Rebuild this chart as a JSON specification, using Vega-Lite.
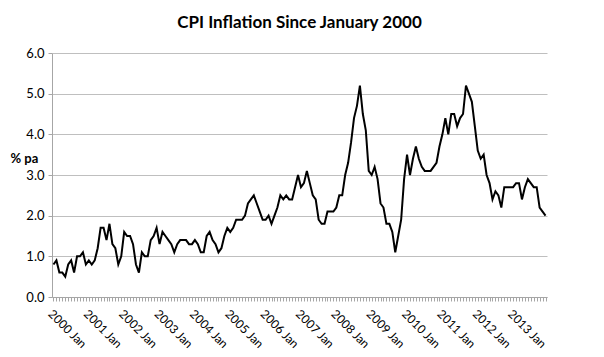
{
  "$schema": "https://vega.github.io/schema/vega-lite/v6.json",
  "width": 495,
  "height": 244,
  "autosize": "none",
  "padding": {"left": 52, "top": 53, "right": 57, "bottom": 60},
  "background": "white",
  "title": {"text": "CPI Inflation Since January 2000", "font": "Lato", "fontSize": 17, "fontWeight": "bold", "color": "#000000", "anchor": "middle", "offset": 15},
  "data": {"values": [
    {"m":"2000 Jan","v":0.8},{"m":"2000 Feb","v":0.9},{"m":"2000 Mar","v":0.6},{"m":"2000 Apr","v":0.6},{"m":"2000 May","v":0.5},{"m":"2000 Jun","v":0.8},{"m":"2000 Jul","v":0.9},{"m":"2000 Aug","v":0.6},{"m":"2000 Sep","v":1.0},{"m":"2000 Oct","v":1.0},{"m":"2000 Nov","v":1.1},{"m":"2000 Dec","v":0.8},
    {"m":"2001 Jan","v":0.9},{"m":"2001 Feb","v":0.8},{"m":"2001 Mar","v":0.9},{"m":"2001 Apr","v":1.2},{"m":"2001 May","v":1.7},{"m":"2001 Jun","v":1.7},{"m":"2001 Jul","v":1.4},{"m":"2001 Aug","v":1.8},{"m":"2001 Sep","v":1.3},{"m":"2001 Oct","v":1.2},{"m":"2001 Nov","v":0.8},{"m":"2001 Dec","v":1.0},
    {"m":"2002 Jan","v":1.6},{"m":"2002 Feb","v":1.5},{"m":"2002 Mar","v":1.5},{"m":"2002 Apr","v":1.3},{"m":"2002 May","v":0.8},{"m":"2002 Jun","v":0.6},{"m":"2002 Jul","v":1.1},{"m":"2002 Aug","v":1.0},{"m":"2002 Sep","v":1.0},{"m":"2002 Oct","v":1.4},{"m":"2002 Nov","v":1.5},{"m":"2002 Dec","v":1.7},
    {"m":"2003 Jan","v":1.3},{"m":"2003 Feb","v":1.6},{"m":"2003 Mar","v":1.5},{"m":"2003 Apr","v":1.4},{"m":"2003 May","v":1.3},{"m":"2003 Jun","v":1.1},{"m":"2003 Jul","v":1.3},{"m":"2003 Aug","v":1.4},{"m":"2003 Sep","v":1.4},{"m":"2003 Oct","v":1.4},{"m":"2003 Nov","v":1.3},{"m":"2003 Dec","v":1.3},
    {"m":"2004 Jan","v":1.4},{"m":"2004 Feb","v":1.3},{"m":"2004 Mar","v":1.1},{"m":"2004 Apr","v":1.1},{"m":"2004 May","v":1.5},{"m":"2004 Jun","v":1.6},{"m":"2004 Jul","v":1.4},{"m":"2004 Aug","v":1.3},{"m":"2004 Sep","v":1.1},{"m":"2004 Oct","v":1.2},{"m":"2004 Nov","v":1.5},{"m":"2004 Dec","v":1.7},
    {"m":"2005 Jan","v":1.6},{"m":"2005 Feb","v":1.7},{"m":"2005 Mar","v":1.9},{"m":"2005 Apr","v":1.9},{"m":"2005 May","v":1.9},{"m":"2005 Jun","v":2.0},{"m":"2005 Jul","v":2.3},{"m":"2005 Aug","v":2.4},{"m":"2005 Sep","v":2.5},{"m":"2005 Oct","v":2.3},{"m":"2005 Nov","v":2.1},{"m":"2005 Dec","v":1.9},
    {"m":"2006 Jan","v":1.9},{"m":"2006 Feb","v":2.0},{"m":"2006 Mar","v":1.8},{"m":"2006 Apr","v":2.0},{"m":"2006 May","v":2.2},{"m":"2006 Jun","v":2.5},{"m":"2006 Jul","v":2.4},{"m":"2006 Aug","v":2.5},{"m":"2006 Sep","v":2.4},{"m":"2006 Oct","v":2.4},{"m":"2006 Nov","v":2.7},{"m":"2006 Dec","v":3.0},
    {"m":"2007 Jan","v":2.7},{"m":"2007 Feb","v":2.8},{"m":"2007 Mar","v":3.1},{"m":"2007 Apr","v":2.8},{"m":"2007 May","v":2.5},{"m":"2007 Jun","v":2.4},{"m":"2007 Jul","v":1.9},{"m":"2007 Aug","v":1.8},{"m":"2007 Sep","v":1.8},{"m":"2007 Oct","v":2.1},{"m":"2007 Nov","v":2.1},{"m":"2007 Dec","v":2.1},
    {"m":"2008 Jan","v":2.2},{"m":"2008 Feb","v":2.5},{"m":"2008 Mar","v":2.5},{"m":"2008 Apr","v":3.0},{"m":"2008 May","v":3.3},{"m":"2008 Jun","v":3.8},{"m":"2008 Jul","v":4.4},{"m":"2008 Aug","v":4.7},{"m":"2008 Sep","v":5.2},{"m":"2008 Oct","v":4.5},{"m":"2008 Nov","v":4.1},{"m":"2008 Dec","v":3.1},
    {"m":"2009 Jan","v":3.0},{"m":"2009 Feb","v":3.2},{"m":"2009 Mar","v":2.9},{"m":"2009 Apr","v":2.3},{"m":"2009 May","v":2.2},{"m":"2009 Jun","v":1.8},{"m":"2009 Jul","v":1.8},{"m":"2009 Aug","v":1.6},{"m":"2009 Sep","v":1.1},{"m":"2009 Oct","v":1.5},{"m":"2009 Nov","v":1.9},{"m":"2009 Dec","v":2.9},
    {"m":"2010 Jan","v":3.5},{"m":"2010 Feb","v":3.0},{"m":"2010 Mar","v":3.4},{"m":"2010 Apr","v":3.7},{"m":"2010 May","v":3.4},{"m":"2010 Jun","v":3.2},{"m":"2010 Jul","v":3.1},{"m":"2010 Aug","v":3.1},{"m":"2010 Sep","v":3.1},{"m":"2010 Oct","v":3.2},{"m":"2010 Nov","v":3.3},{"m":"2010 Dec","v":3.7},
    {"m":"2011 Jan","v":4.0},{"m":"2011 Feb","v":4.4},{"m":"2011 Mar","v":4.0},{"m":"2011 Apr","v":4.5},{"m":"2011 May","v":4.5},{"m":"2011 Jun","v":4.2},{"m":"2011 Jul","v":4.4},{"m":"2011 Aug","v":4.5},{"m":"2011 Sep","v":5.2},{"m":"2011 Oct","v":5.0},{"m":"2011 Nov","v":4.8},{"m":"2011 Dec","v":4.2},
    {"m":"2012 Jan","v":3.6},{"m":"2012 Feb","v":3.4},{"m":"2012 Mar","v":3.5},{"m":"2012 Apr","v":3.0},{"m":"2012 May","v":2.8},{"m":"2012 Jun","v":2.4},{"m":"2012 Jul","v":2.6},{"m":"2012 Aug","v":2.5},{"m":"2012 Sep","v":2.2},{"m":"2012 Oct","v":2.7},{"m":"2012 Nov","v":2.7},{"m":"2012 Dec","v":2.7},
    {"m":"2013 Jan","v":2.7},{"m":"2013 Feb","v":2.8},{"m":"2013 Mar","v":2.8},{"m":"2013 Apr","v":2.4},{"m":"2013 May","v":2.7},{"m":"2013 Jun","v":2.9},{"m":"2013 Jul","v":2.8},{"m":"2013 Aug","v":2.7},{"m":"2013 Sep","v":2.7},{"m":"2013 Oct","v":2.2},{"m":"2013 Nov","v":2.1},{"m":"2013 Dec","v":2.0}
  ]},
  "mark": {"type": "line", "color": "#000000", "strokeWidth": 2},
  "encoding": {
    "x": {
      "field": "m", "type": "ordinal", "sort": null,
      "scale": {"type": "point", "padding": 0.5},
      "axis": {
        "title": null,
        "labelExpr": "indexof(datum.label, 'Jan') >= 0 ? datum.label : ''",
        "labelOverlap": false,
        "labelAngle": 45,
        "labelAlign": "left",
        "labelBaseline": "top",
        "labelPadding": 7,
        "labelFont": "Lato",
        "labelFontSize": 12,
        "labelColor": "#000000",
        "tickSize": 4,
        "tickColor": "#a6a6a6",
        "domainColor": "#a6a6a6",
        "grid": false
      }
    },
    "y": {
      "field": "v", "type": "quantitative",
      "scale": {"domain": [0, 6], "nice": false},
      "axis": {
        "values": [0, 1, 2, 3, 4, 5, 6],
        "format": ".1f",
        "title": "% pa",
        "titleAngle": 0,
        "titleAlign": "left",
        "titleBaseline": "middle",
        "titleX": -42,
        "titleY": 105,
        "titleFont": "Lato",
        "titleFontSize": 13,
        "titleFontWeight": "bold",
        "titleColor": "#000000",
        "labelFont": "Lato",
        "labelFontSize": 13,
        "labelColor": "#000000",
        "labelPadding": 4,
        "tickSize": 4,
        "tickColor": "#a6a6a6",
        "domainColor": "#a6a6a6",
        "gridColor": "#bfbfbf",
        "gridWidth": 1
      }
    }
  },
  "config": {"view": {"stroke": null}}
}
